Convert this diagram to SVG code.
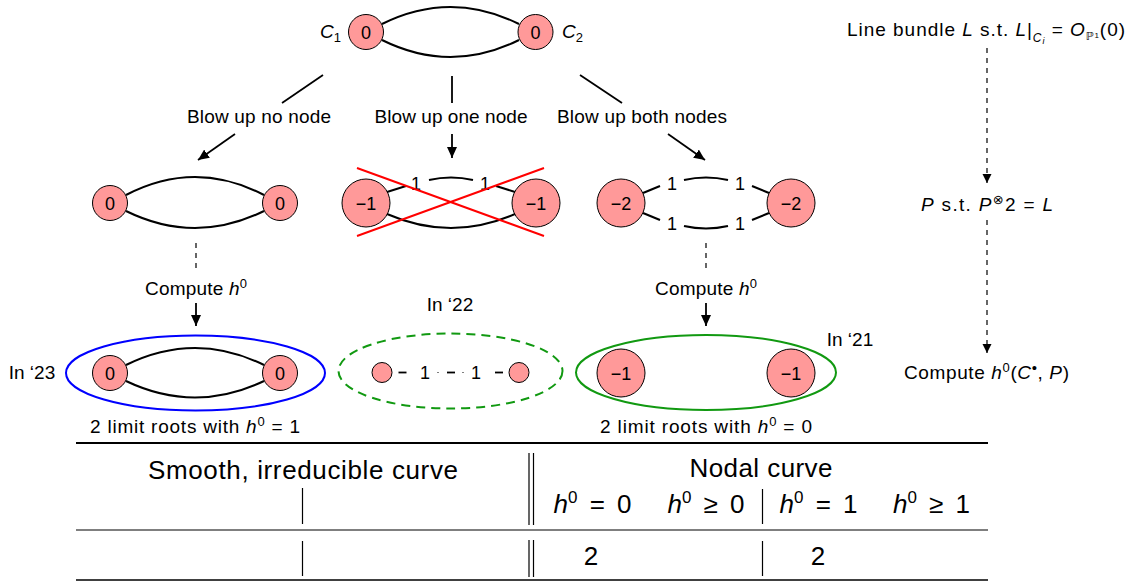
<svg xmlns="http://www.w3.org/2000/svg" width="1130" height="582" viewBox="0 0 1130 582">
<style>
text{font-family:"Liberation Sans","DejaVu Sans",sans-serif;fill:#000}
.lb{font-size:19px}
.nd{font-size:18px;text-anchor:middle}
.tb{font-size:26px}
.node{fill:#ff9999;stroke:#000;stroke-width:1}
.edge{fill:none;stroke:#000;stroke-width:2}
.arr{fill:none;stroke:#000;stroke-width:1.8}
.dash{fill:none;stroke:#000;stroke-width:1.2;stroke-dasharray:5,5}
.rule{stroke:#000;fill:none}
.it{font-style:italic}
.eq{word-spacing:5px}
</style>
<defs>
<marker id="ah" markerUnits="userSpaceOnUse" markerWidth="12" markerHeight="10" refX="11" refY="5" orient="auto">
<path d="M0,0 L11,5 L0,10 z" fill="#000"/>
</marker>
<marker id="ahs" markerUnits="userSpaceOnUse" markerWidth="10" markerHeight="10" refX="9" refY="4.5" orient="auto">
<path d="M0,0 L9,4.5 L0,9 z" fill="#000"/>
</marker>
</defs>

<g id="connectors">
<line class="arr" x1="323" y1="75" x2="282" y2="103"/>
<line class="arr" x1="235" y1="134" x2="198" y2="160" marker-end="url(#ah)"/>
<line class="arr" x1="452" y1="76" x2="452" y2="103"/>
<line class="arr" x1="452" y1="134" x2="452" y2="158" marker-end="url(#ah)"/>
<line class="arr" x1="580" y1="75" x2="622" y2="103"/>
<line class="arr" x1="668" y1="134" x2="705" y2="160" marker-end="url(#ah)"/>
<line class="dash" x1="196" y1="243" x2="196" y2="272"/>
<line class="arr" x1="196" y1="303" x2="196" y2="326" marker-end="url(#ah)"/>
<line class="dash" x1="706" y1="243" x2="706" y2="272"/>
<line class="arr" x1="706" y1="303" x2="706" y2="326" marker-end="url(#ah)"/>
<line class="dash" x1="987" y1="48" x2="987" y2="183" stroke-width="1" stroke-dasharray="6,5" marker-end="url(#ahs)"/>
<line class="dash" x1="987" y1="220" x2="987" y2="353" stroke-width="1" stroke-dasharray="6,5" marker-end="url(#ahs)"/>
</g>

<g id="labels">
<text class="lb" x="259" y="123" text-anchor="middle" textLength="144">Blow up no node</text>
<text class="lb" x="451" y="123" text-anchor="middle" textLength="153">Blow up one node</text>
<text class="lb" x="642" y="123" text-anchor="middle" textLength="170">Blow up both nodes</text>
<text class="lb" x="196" y="295" text-anchor="middle" textLength="102">Compute <tspan class="it">h</tspan><tspan dy="-7" font-size="13">0</tspan></text>
<text class="lb" x="706" y="295" text-anchor="middle" textLength="102">Compute <tspan class="it">h</tspan><tspan dy="-7" font-size="13">0</tspan></text>
<text class="lb" x="450" y="311" text-anchor="middle">In ‘22</text>
<text class="lb" x="32" y="379" text-anchor="middle">In ‘23</text>
<text class="lb" x="850" y="346" text-anchor="middle">In ‘21</text>
<text class="lb" x="195" y="433" text-anchor="middle" textLength="210">2 limit roots with <tspan class="it">h</tspan><tspan dy="-7" font-size="13">0</tspan><tspan dy="7"> = 1</tspan></text>
<text class="lb" x="706" y="433" text-anchor="middle" textLength="212">2 limit roots with <tspan class="it">h</tspan><tspan dy="-7" font-size="13">0</tspan><tspan dy="7"> = 0</tspan></text>
</g>

<g id="top-graph">
<path class="edge" d="M382,24 Q450.5,-10 519,24"/>
<path class="edge" d="M382,40 Q450.5,74 519,40"/>
<circle class="node" cx="366" cy="32" r="17.5"/>
<circle class="node" cx="535.5" cy="32" r="17.5"/>
<text class="nd" x="366" y="38.5">0</text>
<text class="nd" x="535.5" y="38.5">0</text>
<text class="lb" x="320" y="38"><tspan class="it">C</tspan><tspan font-size="13" dy="4">1</tspan></text>
<text class="lb" x="562" y="38"><tspan class="it">C</tspan><tspan font-size="13" dy="4">2</tspan></text>
</g>

<g id="no-blowup">
<path class="edge" d="M126,195 Q195,159 264,195"/>
<path class="edge" d="M126,211 Q195,245 264,211"/>
<circle class="node" cx="110" cy="203" r="17.5"/>
<circle class="node" cx="280" cy="203" r="17.5"/>
<text class="nd" x="110" y="209.5">0</text>
<text class="nd" x="280" y="209.5">0</text>
</g>

<g id="one-blowup">
<line class="edge" x1="387" y1="192" x2="406" y2="186"/>
<path class="edge" d="M429,180 Q451,175 473,180"/>
<line class="edge" x1="496" y1="186" x2="515" y2="192"/>
<path class="edge" d="M387,214 Q451,242 515,214"/>
<circle class="node" cx="366" cy="203" r="24"/>
<circle class="node" cx="536" cy="203" r="24"/>
<text class="nd" x="366" y="209.5">−1</text>
<text class="nd" x="536" y="209.5">−1</text>
<text class="nd" x="416" y="189.5">1</text>
<text class="nd" x="485" y="189.5">1</text>
<line x1="357" y1="168" x2="544" y2="236" stroke="#ff0000" stroke-width="2"/>
<line x1="357" y1="236" x2="544" y2="168" stroke="#ff0000" stroke-width="2"/>
</g>

<g id="both-blowup">
<line class="edge" x1="643" y1="193" x2="660" y2="186"/>
<path class="edge" d="M684,180 Q706,175 728,180"/>
<line class="edge" x1="752" y1="186" x2="769" y2="193"/>
<line class="edge" x1="643" y1="213" x2="660" y2="220"/>
<path class="edge" d="M684,226 Q706,231 728,226"/>
<line class="edge" x1="752" y1="220" x2="769" y2="213"/>
<circle class="node" cx="621" cy="203" r="24"/>
<circle class="node" cx="791" cy="203" r="24"/>
<text class="nd" x="621" y="209.5">−2</text>
<text class="nd" x="791" y="209.5">−2</text>
<text class="nd" x="672" y="189.5">1</text>
<text class="nd" x="740" y="189.5">1</text>
<text class="nd" x="672" y="229.5">1</text>
<text class="nd" x="740" y="229.5">1</text>
</g>

<g id="result-23">
<ellipse cx="195.5" cy="373" rx="129.5" ry="37.5" fill="none" stroke="#0000ff" stroke-width="2"/>
<path class="edge" d="M126,365 Q195,331 264,365"/>
<path class="edge" d="M126,381 Q195,414 264,381"/>
<circle class="node" cx="110" cy="373" r="17.5"/>
<circle class="node" cx="280" cy="373" r="17.5"/>
<text class="nd" x="110" y="379.5">0</text>
<text class="nd" x="280" y="379.5">0</text>
</g>

<g id="result-22">
<ellipse cx="450.5" cy="371" rx="112" ry="37.5" fill="none" stroke="#119911" stroke-width="2" stroke-dasharray="9,6"/>
<circle class="node" cx="382" cy="372.5" r="10"/>
<circle class="node" cx="519" cy="372.5" r="10"/>
<text class="nd" x="425" y="379">1</text>
<text class="nd" x="476" y="379">1</text>
<g stroke="#000" stroke-width="1.8">
<line x1="398.5" y1="372.5" x2="406.5" y2="372.5"/>
<line x1="447" y1="372.5" x2="455" y2="372.5"/>
<line x1="495" y1="372.5" x2="503" y2="372.5"/>
<line x1="437.5" y1="372.5" x2="438.5" y2="372.5" stroke-width="1"/>
<line x1="462.5" y1="372.5" x2="463.5" y2="372.5" stroke-width="1"/>
</g>
</g>

<g id="result-21">
<ellipse cx="706" cy="372.5" rx="130" ry="37.5" fill="none" stroke="#119911" stroke-width="2"/>
<circle class="node" cx="621" cy="373" r="24"/>
<circle class="node" cx="791" cy="373" r="24"/>
<text class="nd" x="621" y="379.5">−1</text>
<text class="nd" x="791" y="379.5">−1</text>
</g>

<g id="right-column">
<text class="lb" x="847" y="36" font-size="17" textLength="278">Line bundle <tspan class="it">L</tspan> s.t.  <tspan class="it">L</tspan>|<tspan class="it" font-size="12" dy="6">C</tspan><tspan class="it" font-size="9" dy="2">i</tspan><tspan dy="-8"> = </tspan><tspan class="it">O</tspan><tspan font-size="11" dy="4">ℙ</tspan><tspan font-size="8" dy="-2">1</tspan><tspan dy="-2">(0)</tspan></text>
<text class="lb" x="921" y="211" textLength="132"><tspan class="it">P</tspan> s.t.  <tspan class="it">P</tspan><tspan font-size="13" dy="-7">⊗</tspan><tspan dy="7">2 = </tspan><tspan class="it">L</tspan></text>
<text class="lb" x="904" y="379" textLength="165">Compute <tspan class="it">h</tspan><tspan font-size="13" dy="-7">0</tspan><tspan dy="7">(</tspan><tspan class="it">C</tspan><tspan font-size="15" dy="-6">•</tspan><tspan dy="6">, </tspan><tspan class="it">P</tspan>)</text>
</g>

<g id="table">
<line class="rule" x1="76" y1="443" x2="988" y2="443" stroke-width="2"/>
<line class="rule" x1="76" y1="530" x2="988" y2="530" stroke-width="1.2"/>
<line class="rule" x1="76" y1="580" x2="988" y2="580" stroke-width="1.6"/>
<g stroke="#000" stroke-width="1.2">
<line x1="302.5" y1="488" x2="302.5" y2="524"/>
<line x1="302.5" y1="541" x2="302.5" y2="576"/>
<line x1="529" y1="453" x2="529" y2="525"/>
<line x1="533.5" y1="453" x2="533.5" y2="525"/>
<line x1="529" y1="540" x2="529" y2="577"/>
<line x1="533.5" y1="540" x2="533.5" y2="577"/>
<line x1="762.5" y1="489" x2="762.5" y2="524"/>
<line x1="762.5" y1="541" x2="762.5" y2="576"/>
</g>
<text class="tb" x="303" y="479" text-anchor="middle" textLength="310">Smooth, irreducible curve</text>
<text class="tb" x="761" y="477" text-anchor="middle" textLength="143">Nodal curve</text>
<text class="tb eq" x="592.5" y="513" text-anchor="middle"><tspan class="it">h</tspan><tspan font-size="17" dy="-10">0</tspan><tspan dy="10"> = 0</tspan></text>
<text class="tb eq" x="706" y="513" text-anchor="middle"><tspan class="it">h</tspan><tspan font-size="17" dy="-10">0</tspan><tspan dy="10"> ≥ 0</tspan></text>
<text class="tb eq" x="818.5" y="513" text-anchor="middle"><tspan class="it">h</tspan><tspan font-size="17" dy="-10">0</tspan><tspan dy="10"> = 1</tspan></text>
<text class="tb eq" x="931.5" y="513" text-anchor="middle"><tspan class="it">h</tspan><tspan font-size="17" dy="-10">0</tspan><tspan dy="10"> ≥ 1</tspan></text>
<text class="tb" x="591" y="565" text-anchor="middle">2</text>
<text class="tb" x="818" y="565" text-anchor="middle">2</text>
</g>
</svg>
